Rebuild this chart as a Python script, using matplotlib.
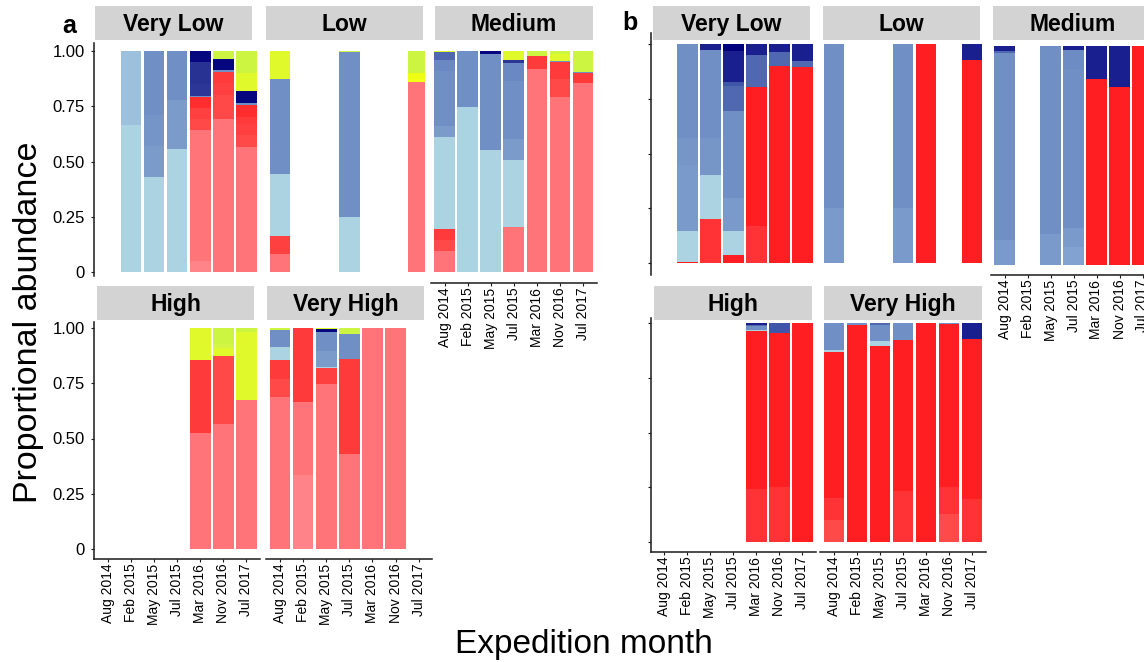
import matplotlib
matplotlib.use("Agg")
import matplotlib.pyplot as plt
from matplotlib.patches import Rectangle

plt.rcParams["font.family"] = ["Liberation Sans", "DejaVu Sans"]

W, H = 1144, 662

months = ["Aug 2014", "Feb 2015", "May 2015", "Jul 2015", "Mar 2016", "Nov 2016", "Jul 2017"]
levels = ["Very Low", "Low", "Medium", "High", "Very High"]
ytick_vals = [0, 0.25, 0.5, 0.75, 1.0]
ytick_labels = ["0", "0.25", "0.50", "0.75", "1.00"]

# ---- panel a: symbiont profiles, stacked bottom -> top in this order ----
taxa_a = ["D_pale", "D_main", "D_r1", "D_r2", "D_r3", "D_r4",
          "C_lb1", "C_lb2", "C_sb3", "C_sb2", "C_sb1", "C_sb0", "C_blue",
          "C_navy", "C_navy2", "C_navy3", "Y_yel", "Y_bright", "Y_lime_l", "Y_lime"]
colors_a = ["#FF848A", "#FF7479", "#FF4848", "#FF4040", "#FF3A3A", "#FF2D2D",
            "#ABD3E1", "#9DC1DC", "#7B9BCB", "#7594C7", "#7090C5", "#6A89C2", "#5068B0",
            "#2C3697", "#283292", "#06067F", "#DFF92B", "#EEFF14", "#D5F545", "#CCF542"]

abund_a = {
    "Very Low": {
        "Feb 2015": {"C_lb1": 0.666, "C_lb2": 0.334},
        "May 2015": {"C_lb1": 0.429, "C_sb3": 0.144, "C_sb2": 0.138, "C_sb1": 0.289},
        "Jul 2015": {"C_lb1": 0.558, "C_sb3": 0.221, "C_sb1": 0.221},
        "Mar 2016": {"D_pale": 0.053, "D_main": 0.591, "D_r1": 0.049, "D_r2": 0.050,
                     "D_r4": 0.049, "C_sb1": 0.006, "C_navy": 0.052, "C_navy2": 0.100,
                     "C_navy3": 0.050},
        "Nov 2016": {"D_main": 0.693, "D_r1": 0.107, "D_r2": 0.054, "D_r3": 0.053,
                     "C_sb1": 0.005, "C_navy3": 0.053, "Y_lime": 0.035},
        "Jul 2017": {"D_main": 0.567, "D_r1": 0.054, "D_r2": 0.050, "D_r3": 0.033,
                     "D_r4": 0.051, "C_sb1": 0.010, "C_navy3": 0.055, "Y_yel": 0.079,
                     "Y_lime": 0.101},
    },
    "Low": {
        "Aug 2014": {"D_main": 0.084, "D_r2": 0.081, "C_lb1": 0.280, "C_sb1": 0.429,
                     "Y_yel": 0.126},
        "Jul 2015": {"C_lb1": 0.251, "C_sb1": 0.743, "Y_lime": 0.006},
        "Jul 2017": {"D_main": 0.862, "Y_bright": 0.038, "Y_lime": 0.100},
    },
    "Medium": {
        "Aug 2014": {"D_main": 0.099, "D_r1": 0.048, "D_r3": 0.050, "C_lb1": 0.415,
                     "C_sb3": 0.050, "C_sb1": 0.248, "C_sb0": 0.049, "C_blue": 0.035,
                     "Y_yel": 0.006},
        "Feb 2015": {"C_lb1": 0.747, "C_sb1": 0.253},
        "May 2015": {"C_lb1": 0.553, "C_sb1": 0.433, "C_navy3": 0.014},
        "Jul 2015": {"D_main": 0.206, "C_lb1": 0.302, "C_sb3": 0.095, "C_sb1": 0.262,
                     "C_sb0": 0.081, "C_navy": 0.013, "Y_yel": 0.041},
        "Mar 2016": {"D_main": 0.919, "D_r3": 0.060, "Y_lime": 0.021},
        "Nov 2016": {"D_main": 0.792, "D_r1": 0.082, "D_r3": 0.078, "C_sb1": 0.003,
                     "Y_yel": 0.031, "Y_lime": 0.014},
        "Jul 2017": {"D_main": 0.856, "D_r3": 0.044, "C_sb1": 0.007, "Y_lime": 0.093},
    },
    "High": {
        "Mar 2016": {"D_main": 0.523, "D_r3": 0.331, "Y_yel": 0.146},
        "Nov 2016": {"D_main": 0.564, "D_r1": 0.308, "Y_yel": 0.036, "Y_lime_l": 0.021,
                     "Y_lime": 0.071},
        "Jul 2017": {"D_main": 0.674, "Y_yel": 0.308, "Y_lime": 0.018},
    },
    "Very High": {
        "Aug 2014": {"D_main": 0.688, "D_r1": 0.080, "D_r3": 0.086, "C_lb1": 0.060,
                     "C_sb1": 0.075, "Y_lime": 0.011},
        "Feb 2015": {"D_pale": 0.333, "D_main": 0.331, "D_r3": 0.336},
        "May 2015": {"D_main": 0.745, "D_r2": 0.074, "C_lb1": 0.005, "C_sb3": 0.070,
                     "C_sb1": 0.088, "C_navy3": 0.012, "Y_yel": 0.006},
        "Jul 2015": {"D_main": 0.428, "D_r3": 0.430, "C_sb1": 0.113, "Y_lime": 0.029},
        "Mar 2016": {"D_main": 1.0},
        "Nov 2016": {"D_main": 1.0},
    },
}

# ---- panel b ----
taxa_b = ["D_light", "D_mid", "D_main", "C_lb", "C_pale", "C_sb3", "C_sb2", "C_sb1",
          "C_sb0", "C_blue", "C_blue2", "C_navy", "C_navy2"]
colors_b = ["#FF4A4A", "#FF3336", "#FF1F22", "#ABD3E1", "#82A2D2", "#7A9ACB", "#7796C8",
            "#7090C5", "#6C8CC3", "#5068B0", "#3F55A8", "#1A1F8F", "#00007F"]

abund_b = {
    "Very Low": {
        "Feb 2015": {"D_main": 0.005, "C_lb": 0.141, "C_sb3": 0.302, "C_sb2": 0.122,
                     "C_sb1": 0.430},
        "May 2015": {"D_mid": 0.200, "C_lb": 0.201, "C_sb2": 0.169, "C_sb1": 0.403,
                     "C_navy": 0.027},
        "Jul 2015": {"D_main": 0.035, "C_lb": 0.111, "C_sb3": 0.150, "C_sb1": 0.398,
                     "C_blue": 0.114, "C_blue2": 0.020, "C_navy": 0.140, "C_navy2": 0.032},
        "Mar 2016": {"D_mid": 0.168, "D_main": 0.634, "C_blue": 0.148, "C_navy": 0.050},
        "Nov 2016": {"D_main": 0.901, "C_blue": 0.064, "C_navy": 0.035},
        "Jul 2017": {"D_main": 0.895, "C_blue": 0.027, "C_navy": 0.078},
    },
    "Low": {
        "Aug 2014": {"C_sb3": 0.252, "C_sb1": 0.748},
        "Jul 2015": {"C_sb3": 0.252, "C_sb1": 0.748},
        "Mar 2016": {"D_main": 1.0},
        "Jul 2017": {"D_main": 0.927, "C_navy": 0.073},
    },
    "Medium": {
        "Aug 2014": {"C_sb3": 0.114, "C_sb1": 0.856, "C_blue": 0.009, "C_navy": 0.021},
        "May 2015": {"C_sb3": 0.142, "C_sb1": 0.858},
        "Jul 2015": {"C_pale": 0.084, "C_sb3": 0.083, "C_sb1": 0.728, "C_sb0": 0.087,
                     "C_navy": 0.018},
        "Mar 2016": {"D_main": 0.849, "C_navy": 0.151},
        "Nov 2016": {"D_main": 0.811, "C_navy": 0.189},
        "Jul 2017": {"D_main": 1.0},
    },
    "High": {
        "Mar 2016": {"D_mid": 0.240, "D_main": 0.722, "C_lb": 0.005, "C_sb1": 0.018,
                     "C_blue": 0.005, "C_navy": 0.010},
        "Nov 2016": {"D_mid": 0.251, "D_main": 0.702, "C_blue2": 0.047},
        "Jul 2017": {"D_main": 1.0},
    },
    "Very High": {
        "Aug 2014": {"D_light": 0.099, "D_mid": 0.101, "D_main": 0.666, "C_lb": 0.012,
                     "C_sb1": 0.122},
        "Feb 2015": {"D_main": 0.992, "C_sb1": 0.008},
        "May 2015": {"D_main": 0.893, "C_lb": 0.023, "C_sb1": 0.076, "C_blue": 0.008},
        "Jul 2015": {"D_mid": 0.233, "D_main": 0.688, "C_sb1": 0.079},
        "Mar 2016": {"D_main": 1.0},
        "Nov 2016": {"D_light": 0.126, "D_mid": 0.125, "D_main": 0.743, "C_sb1": 0.006},
        "Jul 2017": {"D_mid": 0.198, "D_main": 0.729, "C_navy": 0.073},
    },
}

fig = plt.figure(figsize=(W / 100, H / 100), dpi=100)
AXCOL = "#1a1a1a"


def panel_axes(x0, step, top, bottom, y_one, y_zero, right=None):
    """Axes laid out in pixels: x0 = centre of first month, y_one/y_zero = rows of 1 and 0."""
    left = x0 - 0.6 * step
    right_px = x0 + 6.6 * step if right is None else right
    ax = fig.add_axes([left / W, 1 - bottom / H, (right_px - left) / W, (bottom - top) / H])
    ax.set_xlim(-0.6, (right_px - x0) / step)
    unit = y_zero - y_one
    ax.set_ylim(-(bottom - y_zero) / unit, 1 + (y_one - top) / unit)
    ax.patch.set_visible(False)
    for s in ax.spines.values():
        s.set_visible(False)
        s.set_linewidth(1.1)
        s.set_color(AXCOL)
    ax.tick_params(length=2.4, width=0.8, color=AXCOL, labelcolor="black")
    ax.set_xticks([])
    ax.set_yticks([])
    return ax


def draw_stacks(ax, data, taxa, colors):
    for i, m in enumerate(months):
        comp = data.get(m)
        if not comp:
            continue
        base = 0.0
        for t, c in zip(taxa, colors):
            v = comp.get(t, 0.0)
            if v > 0:
                ax.bar(i, v, bottom=base, width=0.9, color=c, linewidth=0)
                base += v


def add_yaxis(ax, labels):
    ax.spines["left"].set_visible(True)
    ax.set_yticks(ytick_vals)
    if labels:
        ax.set_yticklabels(ytick_labels, fontsize=12)
        ax.tick_params(axis="y", pad=4)
    else:
        ax.set_yticklabels([])


def add_xaxis(ax):
    ax.spines["bottom"].set_visible(True)
    ax.set_xticks(range(len(months)))
    ax.set_xticklabels(months, rotation=90, fontsize=10)
    ax.tick_params(axis="x", pad=1)


def strip(x0, x1, y0, y1, label):
    fig.add_artist(Rectangle((x0 / W, 1 - y1 / H), (x1 - x0) / W, (y1 - y0) / H,
                             transform=fig.transFigure, facecolor="#D3D3D3",
                             edgecolor="none"))
    fig.text((x0 + x1) / 2 / W, 1 - ((y0 + y1) / 2 + 8.3) / H, label,
             ha="center", va="baseline", fontsize=16.5, fontweight="bold")


# ---------------- panel a ----------------
a_cols = [(107.8, 23.1), (280.0, 23.1), (444.5, 23.1)]
a_top = dict(top=43, bottom=283, y_one=51, y_zero=272.5)
a_bot = dict(top=322, bottom=559, y_one=328, y_zero=549)

ax = panel_axes(*a_cols[0], **a_top)
draw_stacks(ax, abund_a["Very Low"], taxa_a, colors_a)
add_yaxis(ax, True)
ax.spines["left"].set_bounds(-(276 - 272.5) / 221.5, 1 + 8 / 221.5)

ax = panel_axes(*a_cols[1], **a_top, right=425)
draw_stacks(ax, abund_a["Low"], taxa_a, colors_a)

ax = panel_axes(*a_cols[2], **a_top)
draw_stacks(ax, abund_a["Medium"], taxa_a, colors_a)
add_xaxis(ax)

ax = panel_axes(*a_cols[0], **a_bot)
draw_stacks(ax, abund_a["High"], taxa_a, colors_a)
add_yaxis(ax, True)
add_xaxis(ax)

ax = panel_axes(*a_cols[1], **a_bot)
draw_stacks(ax, abund_a["Very High"], taxa_a, colors_a)
add_xaxis(ax)

strip(95, 252, 6, 40, "Very Low")
strip(266, 423, 6, 40, "Low")
strip(435, 593, 6, 40, "Medium")
strip(97, 254, 286, 320, "High")
strip(267, 424, 286, 320, "Very High")

# ---------------- panel b ----------------
b_cols = [(664.5, 22.95), (834.0, 23.0), (1004.5, 23.0)]
b_top = dict(top=33, bottom=275, y_one=44, y_zero=263)
b_bot = dict(top=318, bottom=552, y_one=323, y_zero=542)

ax = panel_axes(*b_cols[0], **b_top)
draw_stacks(ax, abund_b["Very Low"], taxa_b, colors_b)
add_yaxis(ax, False)

ax = panel_axes(*b_cols[1], **b_top)
draw_stacks(ax, abund_b["Low"], taxa_b, colors_b)

ax = panel_axes(*b_cols[2], top=35, bottom=275, y_one=46, y_zero=265)
draw_stacks(ax, abund_b["Medium"], taxa_b, colors_b)
add_xaxis(ax)

ax = panel_axes(*b_cols[0], **b_bot)
draw_stacks(ax, abund_b["High"], taxa_b, colors_b)
add_yaxis(ax, False)
add_xaxis(ax)

ax = panel_axes(*b_cols[1], **b_bot)
draw_stacks(ax, abund_b["Very High"], taxa_b, colors_b)
add_xaxis(ax)

strip(653, 810, 6, 40, "Very Low")
strip(823, 980, 6, 40, "Low")
strip(993, 1152, 6, 40, "Medium")
strip(654, 812, 286, 320, "High")
strip(824, 982, 286, 320, "Very High")

# ---------------- shared labels ----------------
fig.text(29 / W, 1 - 322 / H, "Proportional abundance", rotation=90,
         ha="center", va="center", fontsize=24.5)
fig.text(584 / W, 1 - 653 / H, "Expedition month", ha="center", va="baseline",
         fontsize=24)
fig.text(69.5 / W, 1 - 33 / H, "a", ha="center", va="baseline", fontsize=18,
         fontweight="bold")
fig.text(629.5 / W, 1 - 30 / H, "b", ha="center", va="baseline", fontsize=18,
         fontweight="bold")

fig.savefig("out.png", dpi=100)
